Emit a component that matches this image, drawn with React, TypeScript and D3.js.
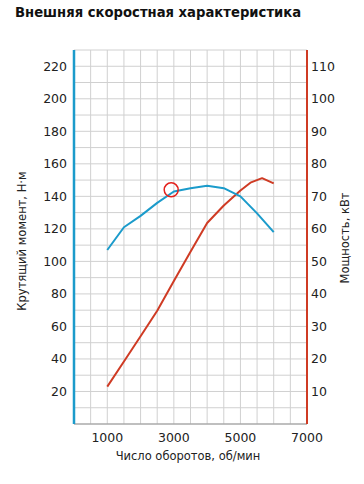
import * as d3 from "d3";

const rpm = [1000, 1500, 2000, 2500, 3000, 3500, 4000, 4500, 5000, 5500, 6000];
const torque = [107, 121, 128, 136, 143, 145, 146.5, 145, 140, 129.5, 118];
const powerRpm = [1000, 1500, 2000, 2500, 3000, 3500, 4000, 4500, 5000, 5300, 5650, 6000];
const power = [11.5, 19.2, 27, 34.8, 44, 53, 61.8, 67.2, 71.8, 74.2, 75.6, 74];

const torqueTicks = [20, 40, 60, 80, 100, 120, 140, 160, 180, 200, 220];
const powerTicks = [10, 20, 30, 40, 50, 60, 70, 80, 90, 100, 110];
const rpmTicks = [1000, 3000, 5000, 7000];
const marker = { rpm: 2920, torque: 144 };

const title = "Внешняя скоростная характеристика";
const leftLabel = "Крутящий момент, Н·м";
const rightLabel = "Мощность, кВт";
const bottomLabel = "Число оборотов, об/мин";

const BLUE = "#1b9bcb";
const RED = "#cf3b24";
const FONT = "DejaVu Sans";

export default function App() {
  const width = 364;
  const height = 484;
  const margin = { top: 50, right: 57, bottom: 60, left: 74 };

  const x = d3.scaleLinear().domain([0, 7000]).range([margin.left, width - margin.right]);
  const yT = d3.scaleLinear().domain([0, 230]).range([height - margin.bottom, margin.top]);
  const yP = d3.scaleLinear().domain([0, 115]).range([height - margin.bottom, margin.top]);

  const torqueLine = d3
    .line<number>()
    .x((_, i) => x(rpm[i]))
    .y((d) => yT(d));
  const powerLine = d3
    .line<number>()
    .x((_, i) => x(powerRpm[i]))
    .y((d) => yP(d));

  const hGrid = d3.range(10, 231, 10);
  const vGrid = d3.range(500, 7000, 500);
  const x0 = x(0);
  const x1 = x(7000);
  const y0 = yT(0);
  const y1 = yT(230);

  return (
    <svg
      width={width}
      height={height}
      style={{ position: "absolute", left: 0, top: 0, background: "#fff" }}
      fontFamily={FONT}
    >
      <text x={15} y={17} fontSize={13.2} fontWeight="bold" fill="#111">
        {title}
      </text>

      <g stroke="#d0d0d0" strokeWidth={1}>
        {hGrid.map((v) => (
          <line key={"h" + v} x1={x0} x2={x1} y1={yT(v)} y2={yT(v)} />
        ))}
        {vGrid.map((v) => (
          <line key={"v" + v} x1={x(v)} x2={x(v)} y1={y1} y2={y0} />
        ))}
      </g>
      <line x1={x0} x2={x1} y1={y0} y2={y0} stroke="#aaa" strokeWidth={1.5} />

      <line x1={x0} x2={x0} y1={y1} y2={y0} stroke={BLUE} strokeWidth={2.5} />
      <line x1={x1} x2={x1} y1={y1} y2={y0} stroke={RED} strokeWidth={2} />

      <path d={powerLine(power) ?? ""} fill="none" stroke={RED} strokeWidth={2} strokeLinejoin="round" />
      <path d={torqueLine(torque) ?? ""} fill="none" stroke={BLUE} strokeWidth={2} strokeLinejoin="round" />
      <circle cx={x(marker.rpm)} cy={yT(marker.torque)} r={7} fill="none" stroke="#e3211c" strokeWidth={1.5} />

      <g fontSize={12.5} fill="#222">
        {torqueTicks.map((t) => (
          <text key={"t" + t} x={x0 - 7} y={yT(t)} dy="0.35em" textAnchor="end">
            {t}
          </text>
        ))}
        {powerTicks.map((t) => (
          <text key={"p" + t} x={x1 + 4} y={yP(t)} dy="0.35em" textAnchor="start">
            {t}
          </text>
        ))}
        {rpmTicks.map((t) => (
          <text key={"r" + t} x={x(t)} y={442} textAnchor="middle">
            {t}
          </text>
        ))}
      </g>

      <g fontSize={11.5} fill="#222">
        <text x={188} y={460} textAnchor="middle">
          {bottomLabel}
        </text>
        <text transform="translate(26,241) rotate(-90)" textAnchor="middle">
          {leftLabel}
        </text>
        <text transform="translate(349,238) rotate(-90)" textAnchor="middle">
          {rightLabel}
        </text>
      </g>
    </svg>
  );
}
